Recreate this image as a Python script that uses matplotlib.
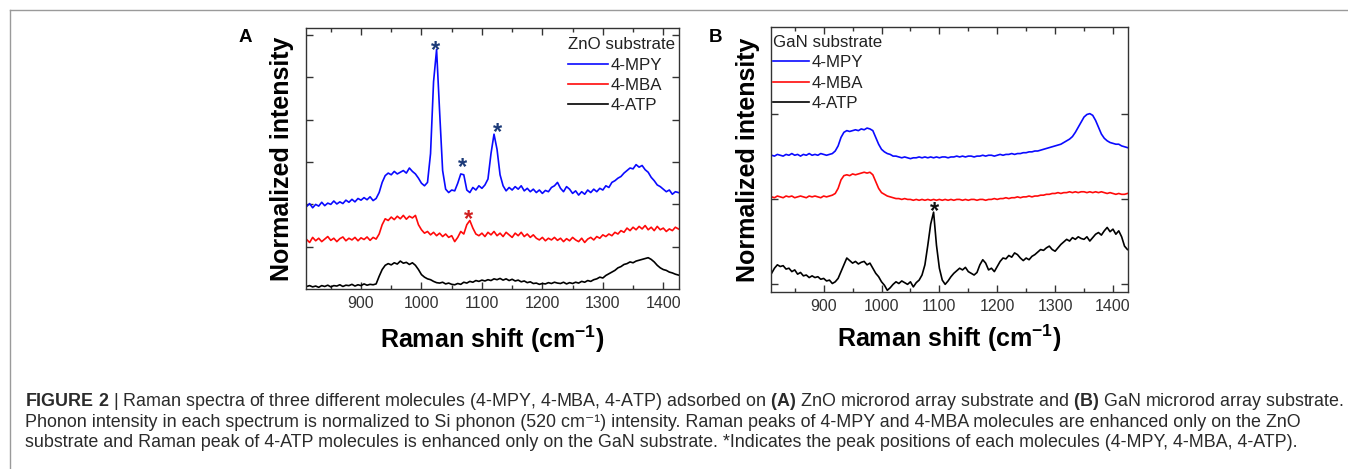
import matplotlib
matplotlib.use("Agg")
import matplotlib.pyplot as plt
from matplotlib.lines import Line2D
from matplotlib.ticker import MultipleLocator

plt.rcParams['font.family'] = ['Liberation Sans', 'DejaVu Sans']
plt.rcParams['mathtext.fontset'] = 'custom'
plt.rcParams['mathtext.rm'] = 'Liberation Sans'
plt.rcParams['mathtext.bf'] = 'Liberation Sans:bold'

# Raman shift grid shared by all spectra (cm-1)
shift = [
    810, 815, 820, 825, 830, 835, 840, 845, 850, 855,
    860, 865, 870, 875, 880, 885, 890, 895, 900, 905,
    910, 915, 920, 925, 930, 935, 940, 945, 950, 955,
    960, 965, 970, 975, 980, 985, 990, 995, 1000, 1005,
    1010, 1015, 1020, 1025, 1030, 1035, 1040, 1045, 1050, 1055,
    1060, 1065, 1070, 1075, 1080, 1085, 1090, 1095, 1100, 1105,
    1110, 1115, 1120, 1125, 1130, 1135, 1140, 1145, 1150, 1155,
    1160, 1165, 1170, 1175, 1180, 1185, 1190, 1195, 1200, 1205,
    1210, 1215, 1220, 1225, 1230, 1235, 1240, 1245, 1250, 1255,
    1260, 1265, 1270, 1275, 1280, 1285, 1290, 1295, 1300, 1305,
    1310, 1315, 1320, 1325, 1330, 1335, 1340, 1345, 1350, 1355,
    1360, 1365, 1370, 1375, 1380, 1385, 1390, 1395, 1400, 1405,
    1410, 1415, 1420, 1425,
]

# (A) ZnO substrate, offset spectra
zno_mpy = [
    1.95, 2.02, 1.92, 2.00, 1.96, 2.05, 1.97, 2.03, 2.00, 2.08,
    2.01, 2.06, 2.02, 2.10, 2.05, 2.12, 2.06, 2.14, 2.10, 2.16,
    2.11, 2.18, 2.09, 2.14, 2.28, 2.52, 2.68, 2.74, 2.70, 2.78,
    2.72, 2.76, 2.80, 2.74, 2.86, 2.78, 2.72, 2.62, 2.50, 2.44,
    2.52, 3.20, 4.90, 5.66, 4.20, 2.80, 2.36, 2.28, 2.34, 2.32,
    2.50, 2.72, 2.70, 2.34, 2.28, 2.40, 2.34, 2.44, 2.38, 2.46,
    2.60, 3.20, 3.66, 3.30, 2.70, 2.44, 2.32, 2.40, 2.34, 2.42,
    2.36, 2.44, 2.32, 2.38, 2.30, 2.36, 2.28, 2.34, 2.26, 2.33,
    2.30, 2.40, 2.44, 2.52, 2.38, 2.30, 2.42, 2.36, 2.26, 2.32,
    2.22, 2.30, 2.24, 2.34, 2.28, 2.36, 2.30, 2.38, 2.34, 2.44,
    2.40, 2.52, 2.56, 2.62, 2.66, 2.74, 2.80, 2.86, 2.84, 2.94,
    2.88, 2.92, 2.82, 2.76, 2.64, 2.56, 2.46, 2.42, 2.36, 2.30,
    2.34, 2.24, 2.30, 2.28,
]
zno_mba = [
    1.17, 1.10, 1.22, 1.14, 1.20, 1.12, 1.18, 1.24, 1.15, 1.20,
    1.12, 1.19, 1.23, 1.14, 1.20, 1.16, 1.22, 1.14, 1.21, 1.17,
    1.23, 1.15, 1.22, 1.18, 1.30, 1.52, 1.66, 1.62, 1.70, 1.64,
    1.72, 1.66, 1.74, 1.65, 1.72, 1.68, 1.74, 1.52, 1.40, 1.32,
    1.36, 1.28, 1.34, 1.26, 1.32, 1.24, 1.30, 1.22, 1.26, 1.12,
    1.22, 1.36, 1.30, 1.52, 1.62, 1.44, 1.30, 1.26, 1.32, 1.24,
    1.34, 1.28, 1.36, 1.26, 1.32, 1.24, 1.34, 1.28, 1.22, 1.32,
    1.26, 1.34, 1.24, 1.30, 1.22, 1.28, 1.20, 1.16, 1.22, 1.14,
    1.20, 1.16, 1.22, 1.15, 1.20, 1.12, 1.19, 1.14, 1.22, 1.16,
    1.12, 1.20, 1.10, 1.18, 1.22, 1.16, 1.24, 1.20, 1.28, 1.24,
    1.30, 1.26, 1.34, 1.30, 1.38, 1.34, 1.44, 1.38, 1.46, 1.40,
    1.48, 1.42, 1.50, 1.40, 1.46, 1.38, 1.48, 1.40, 1.44, 1.36,
    1.42, 1.38, 1.46, 1.42,
]
zno_atp = [
    0.06, 0.08, 0.05, 0.07, 0.04, 0.08, 0.06, 0.09, 0.05, 0.08,
    0.07, 0.10, 0.06, 0.09, 0.08, 0.11, 0.07, 0.10, 0.08, 0.12,
    0.09, 0.11, 0.10, 0.12, 0.30, 0.46, 0.56, 0.60, 0.57, 0.62,
    0.59, 0.66, 0.61, 0.63, 0.58, 0.62, 0.56, 0.46, 0.34, 0.28,
    0.24, 0.22, 0.18, 0.15, 0.14, 0.16, 0.12, 0.14, 0.11, 0.10,
    0.13, 0.11, 0.16, 0.14, 0.18, 0.16, 0.20, 0.18, 0.21, 0.19,
    0.22, 0.20, 0.24, 0.22, 0.25, 0.21, 0.24, 0.20, 0.23, 0.19,
    0.21, 0.17, 0.19, 0.15, 0.17, 0.13, 0.14, 0.11, 0.13, 0.12,
    0.15, 0.13, 0.16, 0.14, 0.13, 0.16, 0.12, 0.15, 0.13, 0.16,
    0.14, 0.18, 0.16, 0.20, 0.18, 0.22, 0.24, 0.28, 0.26, 0.32,
    0.36, 0.40, 0.44, 0.50, 0.53, 0.58, 0.60, 0.64, 0.62, 0.66,
    0.68, 0.70, 0.72, 0.74, 0.70, 0.64, 0.56, 0.50, 0.46, 0.44,
    0.40, 0.38, 0.35, 0.33,
]

# (B) GaN substrate, offset spectra
gan_mpy = [
    1.51, 1.50, 1.52, 1.51, 1.50, 1.52, 1.51, 1.53, 1.51, 1.52,
    1.50, 1.52, 1.51, 1.53, 1.51, 1.52, 1.51, 1.53, 1.52, 1.51,
    1.52, 1.53, 1.56, 1.62, 1.72, 1.78, 1.80, 1.79, 1.80, 1.81,
    1.80, 1.82, 1.81, 1.83, 1.82, 1.80, 1.72, 1.64, 1.58, 1.55,
    1.53, 1.52, 1.50, 1.50, 1.49, 1.48, 1.49, 1.48, 1.47, 1.48,
    1.48, 1.49, 1.48, 1.49, 1.48, 1.49, 1.48, 1.49, 1.48, 1.49,
    1.49, 1.48, 1.49, 1.49, 1.50, 1.49, 1.50, 1.49, 1.50, 1.50,
    1.49, 1.50, 1.50, 1.51, 1.50, 1.51, 1.51, 1.50, 1.51, 1.52,
    1.51, 1.52, 1.52, 1.53, 1.52, 1.53, 1.53, 1.54, 1.54, 1.55,
    1.55, 1.56, 1.56, 1.57, 1.58, 1.59, 1.60, 1.61, 1.62, 1.63,
    1.64, 1.66, 1.68, 1.70, 1.73, 1.78, 1.84, 1.90, 1.96, 1.99,
    2.00, 1.98, 1.92, 1.84, 1.76, 1.71, 1.68, 1.66, 1.65, 1.64,
    1.64, 1.62, 1.61, 1.60,
]
gan_mba = [
    1.02, 1.01, 1.03, 1.02, 1.01, 1.03, 1.02, 1.03, 1.01, 1.02,
    1.03, 1.02, 1.01, 1.03, 1.02, 1.03, 1.02, 1.01, 1.03, 1.02,
    1.03, 1.04, 1.06, 1.12, 1.22, 1.27, 1.28, 1.27, 1.29, 1.28,
    1.29, 1.30, 1.31, 1.30, 1.31, 1.28, 1.20, 1.12, 1.07, 1.05,
    1.03, 1.02, 1.01, 1.00, 1.00, 0.99, 1.00, 0.99, 0.99, 0.98,
    0.99, 0.98, 0.99, 0.98, 0.99, 0.98, 0.99, 0.98, 0.99, 0.98,
    0.99, 0.98, 0.99, 0.98, 0.99, 0.99, 0.98, 0.99, 0.98, 0.99,
    0.99, 0.98, 0.99, 0.99, 0.98, 0.99, 0.99, 1.00, 0.99, 1.00,
    1.00, 1.01, 1.00, 1.01, 1.01, 1.02, 1.01, 1.02, 1.02, 1.03,
    1.02, 1.03, 1.03, 1.04, 1.04, 1.05, 1.05, 1.06, 1.06, 1.07,
    1.06, 1.07, 1.07, 1.08, 1.07, 1.08, 1.07, 1.08, 1.08, 1.07,
    1.08, 1.07, 1.08, 1.07, 1.08, 1.07, 1.06, 1.07, 1.06, 1.05,
    1.06, 1.05, 1.05, 1.06,
]
gan_atp = [
    0.12, 0.18, 0.22, 0.20, 0.21, 0.17, 0.18, 0.14, 0.16, 0.11,
    0.13, 0.09, 0.10, 0.07, 0.09, 0.07, 0.08, 0.05, 0.06, 0.03,
    0.04, 0.00, 0.02, 0.06, 0.14, 0.22, 0.30, 0.27, 0.24, 0.26,
    0.23, 0.25, 0.26, 0.22, 0.24, 0.18, 0.12, 0.08, 0.02, -0.02,
    -0.08, -0.05, -0.01, 0.02, 0.00, 0.03, 0.01, -0.01, 0.02, -0.04,
    0.01, 0.04, 0.10, 0.22, 0.45, 0.70, 0.84, 0.45, 0.18, 0.04,
    -0.01, 0.03, 0.08, 0.12, 0.15, 0.18, 0.16, 0.19, 0.14, 0.12,
    0.10, 0.13, 0.22, 0.28, 0.24, 0.16, 0.18, 0.14, 0.20, 0.26,
    0.30, 0.29, 0.33, 0.31, 0.36, 0.34, 0.30, 0.27, 0.30, 0.28,
    0.32, 0.34, 0.37, 0.40, 0.39, 0.42, 0.44, 0.40, 0.38, 0.42,
    0.46, 0.49, 0.52, 0.50, 0.54, 0.52, 0.55, 0.53, 0.52, 0.55,
    0.50, 0.54, 0.58, 0.60, 0.57, 0.62, 0.66, 0.61, 0.64, 0.58,
    0.62, 0.55, 0.44, 0.40,
]

molecules = ['4-MPY', '4-MBA', '4-ATP']
line_colors = ['#0a0aff', '#ff0a0a', '#000000']

# peak markers (x, y, colour)
zno_stars = [(1024, 5.81, '#1c3a78'), (1068, 3.04, '#1c3a78'),
             (1125, 3.88, '#1c3a78'), (1078, 1.81, '#d02020')]
gan_stars = [(1091, 0.93, '#111111')]

W, H = 1348, 469
fig = plt.figure(figsize=(W / 100, H / 100), dpi=100)

def px_axes(l, t, r, b):
    return fig.add_axes([l / W, 1 - b / H, (r - l) / W, (b - t) / H])

axA = px_axes(306, 28, 679, 289)
axB = px_axes(771, 27, 1128, 292)

panels = [
    (axA, [zno_mpy, zno_mba, zno_atp], zno_stars, (0, 6.17), [1, 2, 3, 4, 5, 6], 'ZnO substrate'),
    (axB, [gan_mpy, gan_mba, gan_atp], gan_stars, (-0.1, 3.02), [0, 1, 2], 'GaN substrate'),
]

for ax, spectra, stars, ylim, yt, title in panels:
    handles = []
    for spec, name, col in zip(spectra, molecules, line_colors):
        h, = ax.plot(shift, spec, color=col, lw=1.2, label=name)
        handles.append(h)
    for sx, sy, sc in stars:
        ax.annotate('*', (sx, sy), xytext=(0, -10), textcoords='offset points',
                    ha='center', va='baseline', fontsize=17, fontweight='bold', color=sc)
    ax.set_xlim(809, 1426)
    ax.set_ylim(*ylim)
    ax.set_yticks(yt)
    ax.set_yticklabels([])
    ax.xaxis.set_minor_locator(MultipleLocator(50))
    ax.set_xticks([900, 1000, 1100, 1200, 1300, 1400])
    ax.tick_params(which='both', direction='in', top=True, right=True,
                   width=1, color='#333333')
    ax.tick_params(which='major', length=5, labelsize=11.5, labelcolor='#333333', pad=5)
    ax.tick_params(which='minor', length=3)
    for sp in ax.spines.values():
        sp.set_linewidth(1.0)
        sp.set_color('#333333')
    ax.set_ylabel('Normalized intensity', fontsize=18, fontweight='bold', va='center')
    ax.set_xlabel(r'Raman shift (cm$^{\mathdefault{-1}}$)', fontsize=18,
                  fontweight='bold', va='center')
    hl = 2.35 if ax is axA else 2.1
    leg = ax.legend(handles=handles, title=title, frameon=False, fontsize=12.2,
                    title_fontsize=12.2, handlelength=hl, handletextpad=0.15,
                    labelspacing=0.32, borderpad=0, borderaxespad=0,
                    alignment='left')
    leg.get_title().set_color('#222222')
    for t in leg.get_texts():
        t.set_color('#222222')
    if ax is axA:
        leg.set_loc('upper right')
        leg.set_bbox_to_anchor((0.99, 0.965), transform=ax.transAxes)
    else:
        leg.set_loc('upper left')
        leg.set_bbox_to_anchor((0.006, 0.97), transform=ax.transAxes)

axA.yaxis.set_label_coords((282 - 306) / 373, 0.5)
axB.yaxis.set_label_coords((748 - 771) / 357, 0.5)
axA.xaxis.set_label_coords(0.5, (289 - 339) / 261)
axB.xaxis.set_label_coords(0.5, (292 - 338) / 265)

fig.text(245 / W, 1 - 38 / H, 'A', fontsize=13.5, fontweight='bold', ha='center', va='center')
fig.text(715 / W, 1 - 38 / H, 'B', fontsize=13.5, fontweight='bold', ha='center', va='center')

# caption box
fig.add_artist(Line2D([9.5 / W, 9.5 / W], [0, 1 - 10 / H], transform=fig.transFigure,
                      color='#9a9a9a', lw=1))
fig.add_artist(Line2D([9.5 / W, 1], [1 - 10 / H, 1 - 10 / H], transform=fig.transFigure,
                      color='#9a9a9a', lw=1))

cap = [
    r'$\mathbf{FIGURE\ 2}$ | Raman spectra of three different molecules (4-MPY, 4-MBA, 4-ATP) adsorbed on '
    r'$\mathbf{(A)}$ ZnO microrod array substrate and $\mathbf{(B)}$ GaN microrod array substrate.',
    'Phonon intensity in each spectrum is normalized to Si phonon (520 cm\u207b\u00b9) intensity. '
    'Raman peaks of 4-MPY and 4-MBA molecules are enhanced only on the ZnO',
    'substrate and Raman peak of 4-ATP molecules is enhanced only on the GaN substrate. '
    '*Indicates the peak positions of each molecules (4-MPY, 4-MBA, 4-ATP).',
]
for line, base in zip(cap, [406, 427, 447]):
    fig.text(25 / W, 1 - base / H, line, fontsize=12.9, color='#2b2b2b',
             ha='left', va='baseline')

fig.savefig('out.png', dpi=100)
